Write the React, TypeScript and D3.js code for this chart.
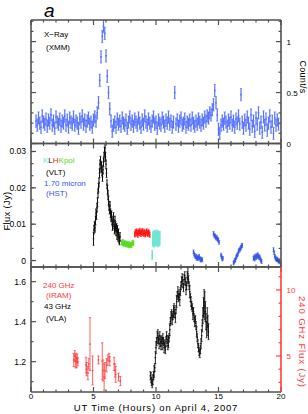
import * as d3 from 'd3';

// ── layout (px) ──
const W = 308;
const H = 414;
const X_LEFT = 31;
const X_RIGHT = 281;
const PANELS = [
  { top: 20, bottom: 143.5 },
  { top: 143.5, bottom: 267 },
  { top: 267, bottom: 392 },
];
const FONT = '"Liberation Sans", Arial, Helvetica, sans-serif';
const FRAME = '#505050';
const RED = '#ff3b3b';

// ── X-ray (XMM), count/s, 0.1 h bins starting 0.4 h ──
const XRAY_START = 0.4;
const XRAY_BIN = 0.1;
const XRAY_ERR = 0.06;
const XRAY_RATE = [
  0.22, 0.18, 0.25, 0.20, 0.16, 0.27, 0.21, 0.19, 0.24, 0.17,
  0.23, 0.20, 0.28, 0.18, 0.22, 0.15, 0.26, 0.21, 0.19, 0.24,
  0.17, 0.22, 0.20, 0.27, 0.18, 0.23, 0.16, 0.25, 0.21, 0.19,
  0.26, 0.18, 0.22, 0.20, 0.15, 0.24, 0.21, 0.27, 0.19, 0.23,
  0.17, 0.22, 0.25, 0.19, 0.21, 0.16, 0.23, 0.26, 0.22, 0.30,
  0.40, 0.62, 0.85, 1.05, 1.15, 1.08, 0.86, 0.66, 0.50, 0.34,
  0.22, 0.12, 0.18, 0.21, 0.16, 0.24, 0.19, 0.22, 0.17, 0.25,
  0.20, 0.18, 0.23, 0.15, 0.21, 0.26, 0.19, 0.22, 0.17, 0.24,
  0.21, 0.18, 0.25, 0.20, 0.16, 0.23, 0.19, 0.27, 0.21, 0.18,
  0.24, 0.20, 0.17, 0.22, 0.26, 0.19, 0.21, 0.15, 0.23, 0.20,
  0.18, 0.25, 0.21, 0.17, 0.23, 0.20, 0.26, 0.19, 0.22, 0.16,
  0.21, 0.50, 0.19, 0.23, 0.17, 0.22, 0.25, 0.18, 0.20, 0.24,
  0.16, 0.21, 0.19, 0.23, 0.18, 0.25, 0.20, 0.17, 0.22, 0.19,
  0.24, 0.21, 0.18, 0.23, 0.20, 0.26, 0.22, 0.27, 0.25, 0.30,
  0.28, 0.33, 0.38, 0.52, 0.40, 0.28, 0.14, 0.10, 0.18, 0.22,
  0.19, 0.25, 0.21, 0.17, 0.23, 0.20, 0.26, 0.18, 0.22, 0.16,
  0.24, 0.20, 0.27, 0.19, 0.48, 0.21, 0.15, 0.23, 0.18, 0.26,
  0.20, 0.14, 0.28, 0.17, 0.22, 0.12, 0.25, 0.19, 0.30, 0.15,
  0.21, 0.11, 0.26, 0.18, 0.24, 0.13, 0.20, 0.27, 0.16, 0.22,
  0.10, 0.25, 0.18, 0.23, 0.19,
];

// ── NIR, Jy: [hour, flux, err] ──
const VLT_L: [number, number, number][] = [
  [5.00, 0.0060, 0.0018], [5.04, 0.0085, 0.0012], [5.08, 0.0095, 0.0012], [5.12, 0.0090, 0.0012],
  [5.16, 0.0110, 0.0012], [5.20, 0.0130, 0.0012], [5.24, 0.0125, 0.0012], [5.28, 0.0145, 0.0012],
  [5.32, 0.0160, 0.0012], [5.36, 0.0185, 0.0012], [5.40, 0.0200, 0.0012], [5.44, 0.0215, 0.0012],
  [5.48, 0.0240, 0.0012], [5.52, 0.0265, 0.0012], [5.56, 0.0275, 0.0012], [5.60, 0.0255, 0.0012],
  [5.64, 0.0260, 0.0012], [5.68, 0.0245, 0.0012], [5.72, 0.0230, 0.0012], [5.76, 0.0250, 0.0012],
  [5.80, 0.0270, 0.0012], [5.84, 0.0285, 0.0012], [5.88, 0.0300, 0.0012], [5.92, 0.0310, 0.0012],
  [5.96, 0.0285, 0.0012], [6.00, 0.0265, 0.0012], [6.04, 0.0240, 0.0012], [6.08, 0.0210, 0.0012],
  [6.12, 0.0195, 0.0012], [6.16, 0.0180, 0.0012], [6.20, 0.0165, 0.0012], [6.24, 0.0150, 0.0012],
  [6.28, 0.0140, 0.0012], [6.32, 0.0150, 0.0012], [6.36, 0.0130, 0.0012], [6.40, 0.0120, 0.0012],
  [6.44, 0.0125, 0.0012], [6.48, 0.0110, 0.0012], [6.52, 0.0095, 0.0012], [6.56, 0.0105, 0.0012],
  [6.60, 0.0120, 0.0012], [6.64, 0.0100, 0.0012], [6.68, 0.0085, 0.0012], [6.72, 0.0110, 0.0012],
  [6.76, 0.0095, 0.0012], [6.80, 0.0080, 0.0012], [6.84, 0.0090, 0.0012], [6.88, 0.0070, 0.0012],
  [6.92, 0.0085, 0.0012], [6.96, 0.0065, 0.0012], [7.00, 0.0075, 0.0012], [7.04, 0.0060, 0.0012],
  [7.08, 0.0055, 0.0012], [7.12, 0.0065, 0.0012],
];
const VLT_KPOL: [number, number, number][] = [
  [7.25, 0.0050, 0.0006], [7.30, 0.0048, 0.0006], [7.35, 0.0052, 0.0006], [7.40, 0.0047, 0.0006],
  [7.45, 0.0045, 0.0006], [7.50, 0.0049, 0.0006], [7.55, 0.0046, 0.0006], [7.60, 0.0044, 0.0006],
  [7.65, 0.0047, 0.0006], [7.70, 0.0043, 0.0006], [7.75, 0.0045, 0.0006], [7.80, 0.0042, 0.0006],
  [7.85, 0.0046, 0.0006], [7.90, 0.0043, 0.0006], [7.95, 0.0041, 0.0006], [8.00, 0.0044, 0.0006],
  [8.05, 0.0042, 0.0006], [8.10, 0.0048, 0.0006], [8.15, 0.0050, 0.0006], [8.20, 0.0047, 0.0006],
];
const VLT_H: [number, number, number][] = [
  [8.30, 0.0072, 0.0007], [8.35, 0.0078, 0.0007], [8.40, 0.0074, 0.0007], [8.45, 0.0080, 0.0007],
  [8.50, 0.0076, 0.0007], [8.55, 0.0071, 0.0007], [8.60, 0.0079, 0.0007], [8.65, 0.0075, 0.0007],
  [8.70, 0.0082, 0.0007], [8.75, 0.0077, 0.0007], [8.80, 0.0073, 0.0007], [8.85, 0.0078, 0.0007],
  [8.90, 0.0081, 0.0007], [8.95, 0.0076, 0.0007], [9.00, 0.0074, 0.0007], [9.05, 0.0079, 0.0007],
  [9.10, 0.0075, 0.0007], [9.15, 0.0072, 0.0007], [9.20, 0.0077, 0.0007], [9.25, 0.0080, 0.0007],
  [9.30, 0.0076, 0.0007], [9.35, 0.0073, 0.0007], [9.40, 0.0078, 0.0007], [9.45, 0.0075, 0.0007],
  [9.50, 0.0071, 0.0007],
];
const VLT_K: [number, number, number][] = [
  [9.70, 0.0015, 0.0013],
  [9.74, 0.0058, 0.0018], [9.78, 0.0062, 0.0018], [9.82, 0.0055, 0.0018], [9.86, 0.0065, 0.0018],
  [9.90, 0.0060, 0.0018], [9.94, 0.0057, 0.0018], [9.98, 0.0063, 0.0018], [10.02, 0.0059, 0.0018],
  [10.06, 0.0066, 0.0018], [10.10, 0.0061, 0.0018], [10.14, 0.0056, 0.0018], [10.18, 0.0064, 0.0018],
  [10.22, 0.0060, 0.0018], [10.26, 0.0058, 0.0018], [10.30, 0.0062, 0.0018],
];
const HST: [number, number, number][] = [
  [13.0, 0.0024, 0.0005], [13.05, 0.0018, 0.0005], [13.1, 0.0014, 0.0005], [13.15, 0.0010, 0.0005],
  [13.2, 0.0012, 0.0005], [13.25, 0.0006, 0.0005], [13.3, 0.0010, 0.0005], [13.35, 0.0005, 0.0005],
  [13.4, 0.0008, 0.0005], [13.45, 0.0012, 0.0005], [13.5, 0.0006, 0.0005], [13.55, 0.0003, 0.0005],
  [13.6, 0.0001, 0.0005], [13.65, 0.0004, 0.0005], [13.7, 0.0002, 0.0005],
  [14.6, 0.0075, 0.0005], [14.65, 0.0070, 0.0005], [14.7, 0.0068, 0.0005], [14.75, 0.0066, 0.0005],
  [14.8, 0.0062, 0.0005], [14.85, 0.0064, 0.0005], [14.9, 0.0060, 0.0005], [14.95, 0.0058, 0.0005],
  [15.0, 0.0055, 0.0005], [15.05, 0.0050, 0.0005],
  [15.2, 0.0015, 0.0005], [15.25, 0.0010, 0.0005], [15.3, 0.0004, 0.0005], [15.35, 0.0006, 0.0005],
  [16.2, -0.0007, 0.0005], [16.25, -0.0004, 0.0005], [16.3, 0.0000, 0.0005], [16.35, 0.0002, 0.0005],
  [16.4, 0.0008, 0.0005], [16.45, 0.0012, 0.0005], [16.5, 0.0015, 0.0005], [16.55, 0.0018, 0.0005],
  [16.6, 0.0025, 0.0005], [16.65, 0.0028, 0.0005], [16.7, 0.0030, 0.0005], [16.75, 0.0033, 0.0005],
  [16.8, 0.0036, 0.0005], [16.85, 0.0040, 0.0005], [16.9, 0.0042, 0.0005],
  [17.8, 0.0006, 0.0005], [17.85, 0.0010, 0.0005], [17.9, 0.0004, 0.0005], [17.95, 0.0012, 0.0005],
  [18.0, 0.0008, 0.0005], [18.05, 0.0014, 0.0005], [18.1, 0.0010, 0.0005], [18.15, 0.0016, 0.0005],
  [18.2, 0.0012, 0.0005], [18.25, 0.0008, 0.0005], [18.3, 0.0010, 0.0005], [18.35, 0.0004, 0.0005],
  [18.4, 0.0000, 0.0005], [18.45, -0.0003, 0.0005],
  [19.4, 0.0030, 0.0005], [19.45, 0.0022, 0.0005], [19.5, 0.0012, 0.0005], [19.55, 0.0008, 0.0005],
  [19.6, 0.0005, 0.0005], [19.65, 0.0002, 0.0005], [19.7, 0.0004, 0.0005], [19.75, 0.0001, 0.0005],
  [19.8, -0.0002, 0.0005], [19.85, 0.0000, 0.0005], [19.9, -0.0004, 0.0005],
];

// ── radio: IRAM 240 GHz (Jy, right axis), VLA 43 GHz (Jy, left axis) ──
const IRAM: [number, number, number][] = [
  [3.42, 4.7, 0.5], [3.5, 5.0, 0.4], [3.55, 4.6, 0.5], [3.6, 4.9, 0.3], [3.65, 4.5, 0.4],
  [3.7, 4.8, 0.35], [3.75, 4.55, 0.3],
  [4.4, 4.3, 0.6], [4.45, 4.0, 0.5], [4.55, 3.7, 0.5], [4.62, 4.4, 0.4], [4.72, 5.9, 2.0],
  [4.93, 3.9, 1.1], [5.39, 4.7, 0.3],
  [5.7, 4.6, 1.4], [5.76, 3.9, 0.8], [5.85, 3.4, 1.0], [5.92, 3.9, 0.6], [6.05, 4.3, 0.5],
  [6.15, 4.7, 0.4], [6.25, 4.9, 0.3], [6.3, 4.6, 0.35], [6.65, 4.4, 0.5], [6.72, 3.9, 0.5],
  [6.78, 3.6, 0.6], [7.0, 3.4, 0.3], [7.15, 3.1, 0.35],
];
const VLA: [number, number, number][] = [
  [9.55, 1.13, 0.02], [9.6, 1.12, 0.025], [9.65, 1.10, 0.02], [9.7, 1.09, 0.02], [9.75, 1.11, 0.025],
  [9.8, 1.13, 0.02], [9.85, 1.15, 0.03], [9.9, 1.17, 0.02], [9.95, 1.22, 0.03], [10.0, 1.27, 0.03],
  [10.05, 1.30, 0.02], [10.1, 1.32, 0.03], [10.15, 1.34, 0.02], [10.2, 1.31, 0.02], [10.25, 1.29, 0.025],
  [10.3, 1.33, 0.02], [10.35, 1.30, 0.025], [10.4, 1.28, 0.02], [10.45, 1.31, 0.02], [10.5, 1.29, 0.03],
  [10.55, 1.32, 0.02], [10.6, 1.30, 0.02], [10.65, 1.27, 0.025], [10.7, 1.29, 0.02], [10.75, 1.26, 0.02],
  [10.8, 1.30, 0.025], [10.85, 1.33, 0.02], [10.9, 1.31, 0.02], [10.95, 1.28, 0.02], [11.0, 1.30, 0.03],
  [11.05, 1.32, 0.02], [11.1, 1.36, 0.03], [11.15, 1.40, 0.02], [11.2, 1.42, 0.03], [11.25, 1.44, 0.02],
  [11.3, 1.41, 0.025], [11.35, 1.43, 0.02], [11.4, 1.45, 0.03], [11.45, 1.47, 0.02], [11.5, 1.44, 0.02],
  [11.55, 1.42, 0.025], [11.6, 1.46, 0.02], [11.65, 1.50, 0.03], [11.7, 1.53, 0.02], [11.75, 1.55, 0.025],
  [11.8, 1.52, 0.02], [11.85, 1.54, 0.02], [11.9, 1.51, 0.03], [11.95, 1.55, 0.02], [12.0, 1.58, 0.02],
  [12.05, 1.60, 0.025], [12.1, 1.62, 0.02], [12.15, 1.59, 0.02], [12.2, 1.57, 0.02], [12.25, 1.61, 0.025],
  [12.3, 1.63, 0.02], [12.35, 1.60, 0.02], [12.4, 1.56, 0.025], [12.45, 1.58, 0.02], [12.5, 1.62, 0.03],
  [12.55, 1.64, 0.03], [12.6, 1.61, 0.02], [12.65, 1.58, 0.02], [12.7, 1.55, 0.03], [12.75, 1.52, 0.02],
  [12.8, 1.50, 0.025], [12.85, 1.48, 0.02], [12.9, 1.47, 0.02], [12.95, 1.44, 0.03], [13.0, 1.45, 0.02],
  [13.05, 1.42, 0.02], [13.1, 1.40, 0.025], [13.15, 1.41, 0.02], [13.2, 1.38, 0.02], [13.25, 1.35, 0.025],
  [13.3, 1.32, 0.02], [13.35, 1.29, 0.02], [13.4, 1.27, 0.02], [13.45, 1.25, 0.02], [13.5, 1.24, 0.02],
  [13.55, 1.26, 0.02], [13.6, 1.29, 0.025], [13.65, 1.33, 0.03], [13.7, 1.38, 0.03], [13.75, 1.43, 0.04],
  [13.8, 1.47, 0.05], [13.85, 1.50, 0.06], [13.9, 1.48, 0.07], [13.95, 1.45, 0.05], [14.0, 1.40, 0.04],
  [14.05, 1.36, 0.04], [14.1, 1.42, 0.05], [14.15, 1.38, 0.05], [14.2, 1.35, 0.04],
];

// ── tick values ──
const X_MAJOR = [0, 5, 10, 15, 20];
const X_MINOR = d3.range(0, 21);
const XRAY_TICKS = [0, 0.5, 1];
const XRAY_MINOR = [0.1, 0.2, 0.3, 0.4, 0.6, 0.7, 0.8, 0.9, 1.1, 1.2];
const NIR_TICKS = [0, 0.01, 0.02, 0.03];
const VLA_TICKS = [1.2, 1.4, 1.6];
const VLA_MINOR = [1.1, 1.3, 1.5];
const IRAM_TICKS = [5, 10];
const IRAM_MINOR = [3, 4, 6, 7, 8, 9, 11];

const x = d3.scaleLinear().domain([0, 20]).range([X_LEFT, X_RIGHT]);
const yX = d3.scaleLinear().domain([0, 1.212]).range([PANELS[0].bottom, PANELS[0].top]);
const yN = d3.scaleLinear().domain([-0.00178, 0.0322]).range([PANELS[1].bottom, PANELS[1].top]);
const yV = d3.scaleLinear().domain([1.0485, 1.6735]).range([PANELS[2].bottom, PANELS[2].top]);
const yI = d3.scaleLinear().domain([2.27, 11.74]).range([PANELS[2].bottom, PANELS[2].top]);

type Pt = [number, number, number];

function ErrBars({ pts, y, color, opacity = 1, sw = 0.8, cap = 1, r = 0.7 }:
  { pts: Pt[]; y: d3.ScaleLinear<number, number>; color: string; opacity?: number; sw?: number; cap?: number; r?: number }) {
  return (
    <g stroke={color} fill={color} opacity={opacity}>
      {pts.map(([t, v, e], i) => {
        const px = x(t);
        const lo = y(v - e);
        const hi = y(v + e);
        return (
          <g key={i}>
            <line x1={px} x2={px} y1={lo} y2={hi} strokeWidth={sw} />
            <line x1={px - cap} x2={px + cap} y1={lo} y2={lo} strokeWidth={0.7} />
            <line x1={px - cap} x2={px + cap} y1={hi} y2={hi} strokeWidth={0.7} />
            <rect x={px - r} y={y(v) - r} width={r * 2} height={r * 2} stroke="none" />
          </g>
        );
      })}
    </g>
  );
}

function yTicks(y: d3.ScaleLinear<number, number>, vals: number[], len: number, side: 'l' | 'r', color = FRAME) {
  const xs = side === 'l' ? X_LEFT : X_RIGHT;
  const dir = side === 'l' ? 1 : -1;
  return vals.map((v, i) => (
    <line key={side + len + i} x1={xs} x2={xs + dir * len} y1={y(v)} y2={y(v)} stroke={color} strokeWidth={1.2} />
  ));
}

function xTicks(p: { top: number; bottom: number }, k: number) {
  return X_MINOR.map(t => {
    const len = t % 5 === 0 ? 5 : 2.5;
    return (
      <g key={`${k}-${t}`} stroke={FRAME} strokeWidth={1.2}>
        <line x1={x(t)} x2={x(t)} y1={p.bottom} y2={p.bottom - len} />
        <line x1={x(t)} x2={x(t)} y1={p.top} y2={p.top + len} />
      </g>
    );
  });
}

export default function App() {
  const xray: Pt[] = XRAY_RATE.map((v, i) => [XRAY_START + i * XRAY_BIN, v, XRAY_ERR]);
  const nirMinor = d3.range(0, 0.0321, 0.01 / 3);
  const tickText = { fontFamily: FONT, fontSize: 8.5, fill: '#000' } as const;
  const note = { fontFamily: FONT, fontSize: 8 } as const;

  return (
    <svg width={W} height={H} style={{ position: 'absolute', left: 0, top: 0, background: '#fff' }}>
      <defs>
        {PANELS.map((p, i) => (
          <clipPath id={`clip${i}`} key={i}>
            <rect x={X_LEFT} y={p.top} width={X_RIGHT - X_LEFT} height={p.bottom - p.top} />
          </clipPath>
        ))}
      </defs>

      <text x={44} y={17} fontFamily={FONT} fontSize={19} fontStyle="italic">a</text>

      {/* data */}
      <g clipPath="url(#clip0)">
        <ErrBars pts={xray} y={yX} color="#3a5cff" opacity={0.85} sw={1.2} cap={1.1} r={0.8} />
      </g>
      <g clipPath="url(#clip1)">
        <ErrBars pts={VLT_K} y={yN} color="#72e6d6" sw={1.6} />
        <ErrBars pts={VLT_KPOL} y={yN} color="#55dd22" sw={1.2} />
        <ErrBars pts={VLT_H} y={yN} color="#ff1a1a" sw={1.2} />
        <ErrBars pts={VLT_L} y={yN} color="#111" sw={1} />
        <ErrBars pts={HST} y={yN} color="#3355ee" sw={0.9} />
      </g>
      <g clipPath="url(#clip2)">
        <ErrBars pts={IRAM} y={yI} color={RED} sw={0.8} cap={1.2} />
        <ErrBars pts={VLA} y={yV} color="#111" sw={0.9} />
      </g>

      {/* ticks */}
      {PANELS.map((p, i) => xTicks(p, i))}
      {yTicks(yX, XRAY_MINOR, 2.5, 'l')}
      {yTicks(yX, XRAY_MINOR, 2.5, 'r')}
      {yTicks(yX, XRAY_TICKS, 5, 'l')}
      {yTicks(yX, XRAY_TICKS, 5, 'r')}
      {yTicks(yN, nirMinor, 2.5, 'l')}
      {yTicks(yN, nirMinor, 2.5, 'r')}
      {yTicks(yN, NIR_TICKS, 5, 'l')}
      {yTicks(yN, NIR_TICKS, 5, 'r')}
      {yTicks(yV, VLA_MINOR, 2.5, 'l')}
      {yTicks(yV, VLA_TICKS, 5, 'l')}
      {yTicks(yI, IRAM_MINOR, 2.5, 'r', RED)}
      {yTicks(yI, IRAM_TICKS, 5, 'r', RED)}

      {/* frames */}
      {PANELS.map((p, i) => (
        <g key={i} fill="none" strokeWidth={1.6}>
          <line x1={X_LEFT} x2={X_RIGHT} y1={p.top} y2={p.top} stroke={FRAME} />
          <line x1={X_LEFT} x2={X_RIGHT} y1={p.bottom} y2={p.bottom} stroke={FRAME} />
          <line x1={X_LEFT} x2={X_LEFT} y1={p.top} y2={p.bottom} stroke={FRAME} />
          <line x1={X_RIGHT} x2={X_RIGHT} y1={p.top} y2={p.bottom} stroke={i === 2 ? RED : FRAME} />
        </g>
      ))}

      {/* tick labels */}
      {X_MAJOR.map(t => (
        <text key={t} x={x(t)} y={398.5} textAnchor="middle" {...tickText} fontSize={8}>{t}</text>
      ))}
      {XRAY_TICKS.map(v => (
        <text key={v} x={286.5} y={yX(v) + 3} {...tickText} fontSize={8}>{v}</text>
      ))}
      {NIR_TICKS.map(v => (
        <text key={v} x={26} y={yN(v) + 3} textAnchor="end" {...tickText}>{v}</text>
      ))}
      {VLA_TICKS.map(v => (
        <text key={v} x={26} y={yV(v) + 3} textAnchor="end" {...tickText}>{v.toFixed(1)}</text>
      ))}
      {IRAM_TICKS.map(v => (
        <text key={v} x={286.5} y={yI(v) + 3} {...tickText} fontSize={8} fill={RED}>{v}</text>
      ))}

      {/* axis titles */}
      <text x={156} y={410.5} textAnchor="middle" fontFamily={FONT} fontSize={9.5} letterSpacing={0.8}>
        UT Time (Hours) on April 4, 2007
      </text>
      <text transform="translate(9.5,211) rotate(-90)" textAnchor="middle" fontFamily={FONT} fontSize={9.5} letterSpacing={0.3}>
        Flux (Jy)
      </text>
      <text transform="translate(300,77) rotate(90)" textAnchor="middle" fontFamily={FONT} fontSize={9} letterSpacing={0.3}>
        Count/s
      </text>
      <text transform="translate(299,342) rotate(90)" textAnchor="middle" fontFamily={FONT} fontSize={9.5}
        letterSpacing={0.9} fill={RED}>
        240 GHz Flux (Jy)
      </text>

      {/* in-panel notes */}
      <text x={44} y={37} {...note}>X−Ray</text>
      <text x={46} y={50} {...note}>(XMM)</text>

      <text x={43} y={163} {...note}>
        <tspan fill="#72e6d6">K</tspan>
        <tspan fill="#111">L</tspan>
        <tspan fill="#ff1a1a">H</tspan>
        <tspan fill="#55dd22">Kpol</tspan>
      </text>
      <text x={46} y={175} {...note}>(VLT)</text>
      <text x={44} y={185.5} {...note} fill="#3355ee">1.70 micron</text>
      <text x={46} y={196} {...note} fill="#3355ee">(HST)</text>

      <text x={43} y={287.5} {...note} fill={RED}>240 GHz</text>
      <text x={46} y={298} {...note} fill={RED}>(IRAM)</text>
      <text x={44} y={309} {...note}>43 GHz</text>
      <text x={46} y={321} {...note}>(VLA)</text>
    </svg>
  );
}
